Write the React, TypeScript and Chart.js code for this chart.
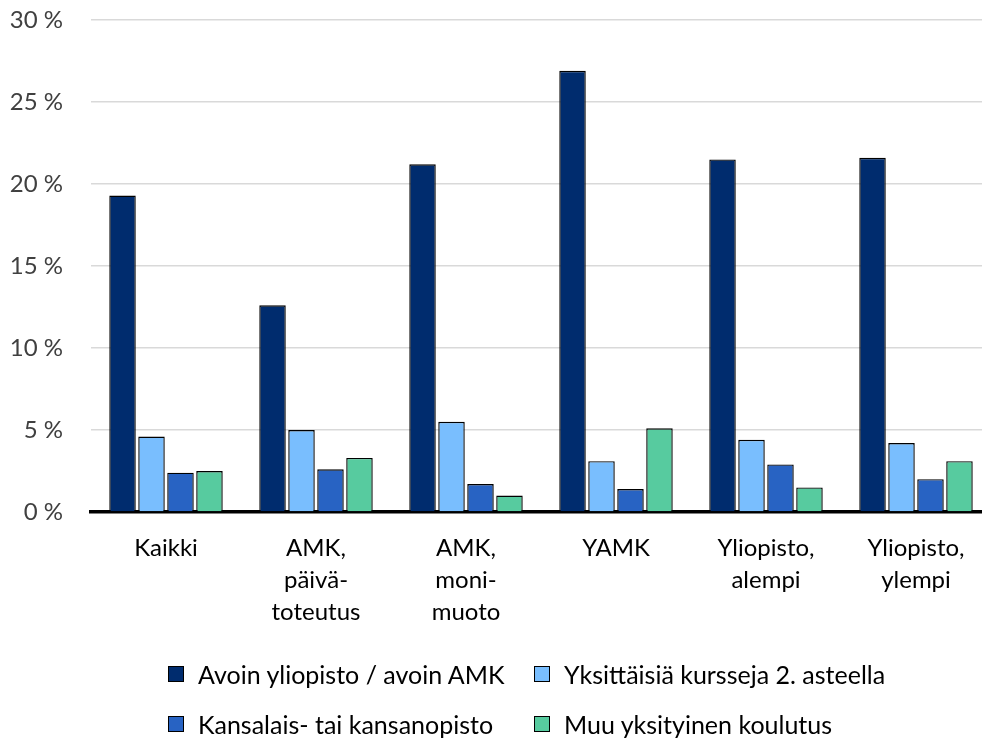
import React, { useEffect, useRef } from "react";
import { Chart, registerables } from "chart.js";

Chart.register(...registerables);

const categories: string[][] = [
  ["Kaikki"],
  ["AMK,", "päivä-", "toteutus"],
  ["AMK,", "moni-", "muoto"],
  ["YAMK"],
  ["Yliopisto,", "alempi"],
  ["Yliopisto,", "ylempi"],
];

const seriesNames = [
  "Avoin yliopisto / avoin AMK",
  "Yksittäisiä kursseja 2. asteella",
  "Kansalais- tai kansanopisto",
  "Muu yksityinen koulutus",
];

const avoin = [19.3, 12.6, 21.2, 26.9, 21.5, 21.6];
const yksittaisia = [4.6, 5.0, 5.5, 3.1, 4.4, 4.2];
const kansalais = [2.4, 2.6, 1.7, 1.4, 2.9, 2.0];
const muu = [2.5, 3.3, 1.0, 5.1, 1.5, 3.1];

const colors = ["#002c6e", "#79befe", "#2863c3", "#57cb9f"];

const yTicks = [0, 5, 10, 15, 20, 25, 30];

const FONT = "Lato, 'Liberation Sans Narrow', 'Noto Sans', sans-serif";

export default function App() {
  const ref = useRef<HTMLCanvasElement | null>(null);

  useEffect(() => {
    if (!ref.current) return;
    const values = [avoin, yksittaisia, kansalais, muu];
    const chart = new Chart(ref.current, {
      type: "bar",
      data: {
        labels: categories,
        datasets: values.map((v, i) => ({
          label: seriesNames[i],
          data: v,
          backgroundColor: colors[i],
          borderColor: "#000000",
          borderWidth: 1.4,
          categoryPercentage: 0.773,
          barPercentage: 0.914,
        })),
      },
      options: {
        responsive: false,
        animation: false,
        layout: { padding: { top: 20, left: 8, right: 0, bottom: 100 } },
        plugins: {
          legend: { display: false },
          tooltip: { enabled: false },
        },
        scales: {
          x: {
            grid: { display: false },
            border: { display: true, color: "#000000", width: 3.5 },
            ticks: {
              autoSkip: false,
              maxRotation: 0,
              color: "#000000",
              padding: 12,
              font: { family: FONT, size: 24, lineHeight: 1.33 },
            },
            afterFit: (s: any) => {
              s.height = 126;
              s.paddingLeft = 0;
              s.paddingRight = 0;
            },
          },
          y: {
            min: 0,
            max: 30,
            afterBuildTicks: (s: any) => {
              s.ticks = yTicks.map((v) => ({ value: v }));
            },
            grid: { color: "#d9d9d9", lineWidth: 1.5, drawTicks: false },
            border: { display: false },
            ticks: {
              color: "#404040",
              padding: 28,
              font: { family: FONT, size: 24 },
              callback: (v: any) => `${v} %`,
            },
            afterFit: (s: any) => {
              s.width = 83;
              s.paddingTop = 0;
              s.paddingBottom = 0;
            },
          },
        },
      },
    });
    return () => chart.destroy();
  }, []);

  const legendItem = (i: number, left: number, top: number) => (
    <div
      key={i}
      style={{
        position: "absolute",
        left,
        top,
        height: 30,
        display: "flex",
        alignItems: "center",
        whiteSpace: "nowrap",
      }}
    >
      <span
        style={{
          display: "inline-block",
          width: 14,
          height: 14,
          background: colors[i],
          border: "1px solid #000",
          marginRight: 14,
        }}
      />
      <span style={{ fontFamily: FONT, fontSize: 25, color: "#000" }}>
        {seriesNames[i]}
      </span>
    </div>
  );

  return (
    <div
      style={{
        position: "fixed",
        left: 0,
        top: 0,
        width: 982,
        height: 738,
        background: "#ffffff",
        overflow: "hidden",
      }}
    >
      <canvas ref={ref} width={991} height={738} style={{ width: 991, height: 738, display: "block" }} />
      {legendItem(0, 168, 659)}
      {legendItem(1, 534, 659)}
      {legendItem(2, 168, 709)}
      {legendItem(3, 534, 709)}
    </div>
  );
}
